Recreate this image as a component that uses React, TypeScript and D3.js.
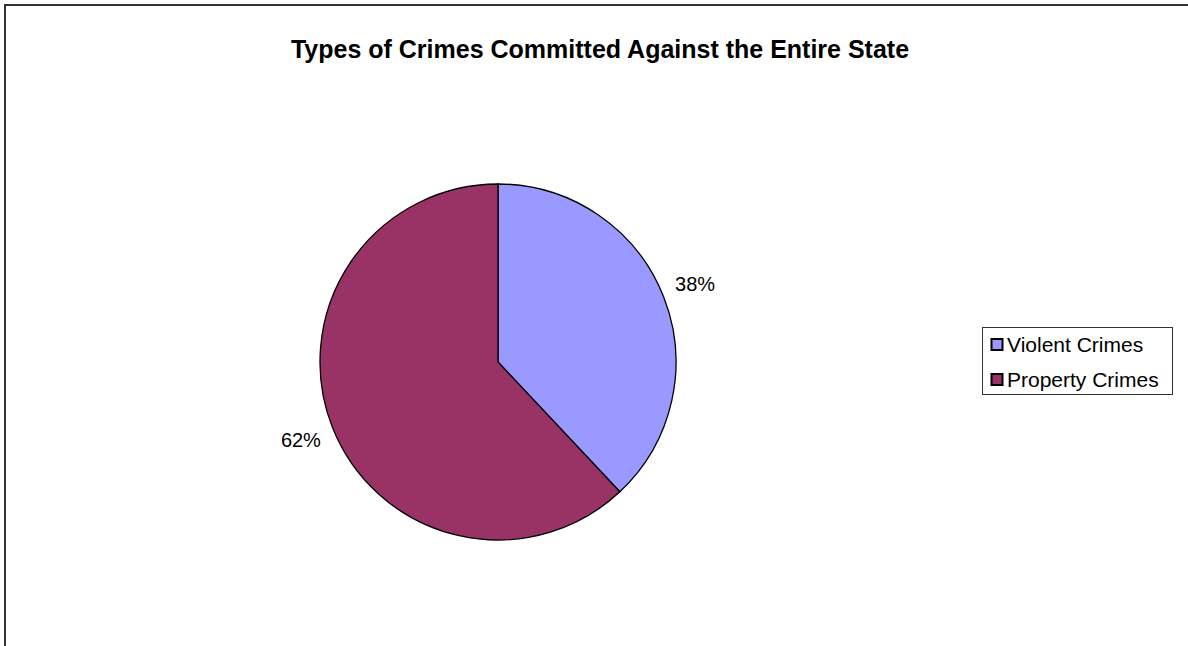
import React from "react";
import * as d3 from "d3";

const title = "Types of Crimes Committed Against the Entire State";
const categories = ["Violent Crimes", "Property Crimes"];
const values = [38, 62];
const colors = ["#9999FF", "#993366"];

const W = 1188;
const H = 646;
const cx = 498;
const cy = 362;
const R = 178;

export default function App() {
  const pie = d3.pie<number>().sort(null).value((d) => d);
  const arcs = pie(values);
  const arcGen = d3.arc<d3.PieArcDatum<number>>().innerRadius(0).outerRadius(R);
  const labelArc = d3.arc<d3.PieArcDatum<number>>().innerRadius(R + 34).outerRadius(R + 34);
  const total = d3.sum(values);
  const font = "Arial, 'Liberation Sans', sans-serif";
  return (
    <svg width={W} height={H} style={{ position: "absolute", left: 0, top: 0 }}>
      <rect x={0} y={0} width={W} height={H} fill="#fff" />
      <path d={`M5,${H + 5} L5,5 L${W + 5},5`} fill="none" stroke="#333" strokeWidth={2} />
      <text x={600} y={58} textAnchor="middle" fontFamily={font} fontWeight="bold" fontSize={25}>
        {title}
      </text>
      <g transform={`translate(${cx},${cy})`}>
        {arcs.map((a, i) => (
          <path key={i} d={arcGen(a) || ""} fill={colors[i]} stroke="#000" strokeWidth={1.3} />
        ))}
        {arcs.map((a, i) => {
          const [x, y] = labelArc.centroid(a);
          return (
            <text key={i} x={x} y={y} textAnchor="middle" dominantBaseline="central" fontFamily={font} fontSize={20}>
              {`${Math.round((values[i] / total) * 100)}%`}
            </text>
          );
        })}
      </g>
      <g>
        <rect x={982.5} y={327.5} width={190} height={67} fill="#fff" stroke="#333" strokeWidth={1} />
        {categories.map((c, i) => (
          <g key={c} transform={`translate(0,${i * 35})`}>
            <rect x={991.5} y={339} width={11} height={11} fill={colors[i]} stroke="#000" strokeWidth={2} />
            <text x={1007} y={352} fontFamily={font} fontSize={21}>
              {c}
            </text>
          </g>
        ))}
      </g>
    </svg>
  );
}
